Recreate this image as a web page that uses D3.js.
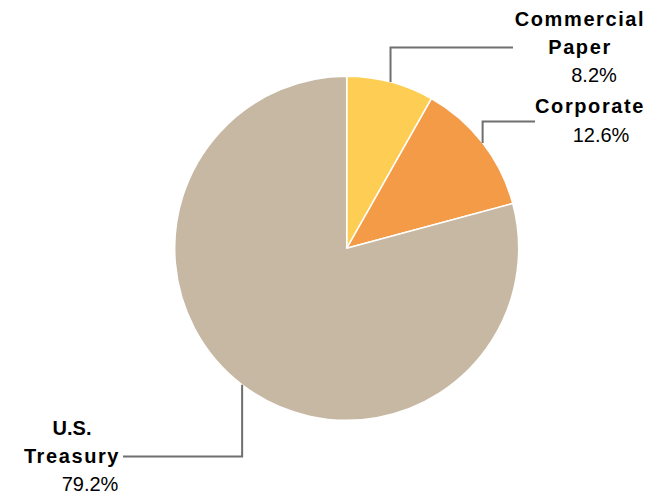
<!DOCTYPE html>
<html>
<head>
<meta charset="utf-8">
<script src="https://cdn.jsdelivr.net/npm/d3@7"></script>
<style>
  html, body { margin: 0; padding: 0; background: #fff; }
  svg { display: block; }
  text { font-family: Arial, "Liberation Sans", sans-serif; fill: #000; }
</style>
</head>
<body>
<svg id="chart" width="671" height="497"></svg>
<script>
// Portfolio composition by sector
const categories = ["Commercial Paper", "Corporate", "U.S. Treasury"];
const labelLines = [["Commercial", "Paper"], ["Corporate"], ["U.S.", "Treasury"]];
const shares = [8.2, 12.6, 79.2];
const colors = ["#FECE54", "#F39B47", "#C7B8A4"];

const width = 671, height = 497;
const cx = 346.7, cy = 248.3, radius = 172;

// Label placement: elbow y of the leader, end x of the leader, text centre x, first baseline y
const labelLayout = [
  { elbowY: 47.5, endX: 513, textX: 580, pctX: 594, firstY: 26, side: "right" },
  { elbowY: 121.5, endX: 535, textX: 590, pctX: 601, firstY: 113, side: "right" },
  { elbowY: 456.5, endX: 123, textX: 72, pctX: 90, firstY: 435, side: "left" }
];

const svg = d3.select("#chart");
const g = svg.append("g").attr("transform", `translate(${cx},${cy})`);

const data = categories.map((c, i) => ({ name: c, value: shares[i], color: colors[i], i }));

const pie = d3.pie().value(d => d.value).sort(null);
const arc = d3.arc().innerRadius(0).outerRadius(radius);
const arcs = pie(data);

g.selectAll("path.slice")
  .data(arcs)
  .join("path")
  .attr("class", "slice")
  .attr("d", arc)
  .attr("fill", d => d.data.color)
  .attr("stroke", "#fff")
  .attr("stroke-width", 1.5)
  .attr("stroke-linejoin", "round");

// Leader lines from the slice mid-angle on the rim
const leaders = svg.append("g");
arcs.forEach(a => {
  const L = labelLayout[a.data.i];
  const mid = (a.startAngle + a.endAngle) / 2;
  const px = cx + radius * Math.sin(mid);
  const py = cy - radius * Math.cos(mid);
  leaders.append("path")
    .attr("d", `M${px},${py} V${L.elbowY} H${L.endX}`)
    .attr("fill", "none")
    .attr("stroke", "#6f6f6f")
    .attr("stroke-width", 2);
});

// Labels
const labels = svg.append("g");
arcs.forEach(a => {
  const i = a.data.i;
  const L = labelLayout[i];
  const lines = labelLines[i];
  lines.forEach((ln, k) => {
    labels.append("text")
      .attr("x", L.textX)
      .attr("y", L.firstY + k * 28)
      .attr("text-anchor", "middle")
      .attr("font-size", 20)
      .attr("font-weight", "bold")
      .attr("letter-spacing", ln === "U.S." ? 0 : 1.6)
      .text(ln);
  });
  labels.append("text")
    .attr("x", L.pctX)
    .attr("y", L.firstY + lines.length * 28 + (lines.length === 1 ? 1 : 0))
    .attr("text-anchor", "middle")
    .attr("font-size", 20)
    .text(d3.format(".1f")(a.data.value) + "%");
});
</script>
</body>
</html>
